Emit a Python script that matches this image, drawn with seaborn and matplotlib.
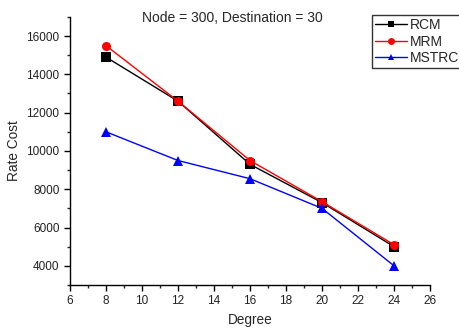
import matplotlib
matplotlib.use("Agg")
import matplotlib.pyplot as plt
import seaborn as sns
import pandas as pd
from matplotlib.ticker import MultipleLocator

degree = [8, 12, 16, 20, 24]
rcm = [14900, 12600, 9300, 7300, 5000]
mrm = [15500, 12600, 9500, 7350, 5100]
mstrc = [11000, 9500, 8550, 7000, 4000]
series_names = ["RCM", "MRM", "MSTRC"]

sns.set_style("ticks")
plt.rcParams['font.family'] = ['Liberation Sans', 'DejaVu Sans']

df = pd.DataFrame({
    "Degree": degree * 3,
    "Rate Cost": rcm + mrm + mstrc,
    "Algo": [series_names[0]] * 5 + [series_names[1]] * 5 + [series_names[2]] * 5,
})

fig = plt.figure(figsize=(4.6, 3.31), dpi=100)
ax = fig.add_axes([0.152, 0.139, 0.783, 0.810])

sns.lineplot(data=df, x="Degree", y="Rate Cost", hue="Algo", style="Algo",
             palette={"RCM": "black", "MRM": "red", "MSTRC": "blue"},
             markers={"RCM": "s", "MRM": "o", "MSTRC": "^"},
             dashes=False, markersize=6.5, linewidth=1, markeredgewidth=0,
             ax=ax, legend=True)

ax.set_xlim(6, 26)
ax.set_ylim(3000, 17000)
ax.xaxis.set_major_locator(MultipleLocator(2))
ax.xaxis.set_minor_locator(MultipleLocator(1))
ax.set_yticks([4000, 6000, 8000, 10000, 12000, 14000, 16000])
ax.yaxis.set_minor_locator(MultipleLocator(1000))
ax.tick_params(axis='both', which='major', labelsize=8.5, length=4, width=1,
               direction='out', colors='black', labelcolor='#222222')
ax.tick_params(axis='both', which='minor', length=2, width=1, direction='out')
for s in ["top", "right"]:
    ax.spines[s].set_visible(False)
for s in ["left", "bottom"]:
    ax.spines[s].set_linewidth(1)
    ax.spines[s].set_color("black")

ax.set_xlabel("Degree", fontsize=9.8)
ax.set_ylabel("Rate Cost", fontsize=9.8)
ax.text(0.45, 0.997, "Node = 300, Destination = 30", transform=ax.transAxes,
        ha="center", va="center", fontsize=10)

handles, labels = ax.get_legend_handles_labels()
leg = ax.legend(handles, labels, loc="upper left", bbox_to_anchor=(0.839, 1.007),
                frameon=True, fancybox=False, fontsize=10, borderpad=0.2,
                labelspacing=0.2, handlelength=2.3, handletextpad=0.25,
                borderaxespad=0)
for h in leg.legend_handles:
    h.set_markersize(5)
leg.get_frame().set_edgecolor("black")
leg.get_frame().set_linewidth(1)

fig.savefig("out.png", dpi=100)
